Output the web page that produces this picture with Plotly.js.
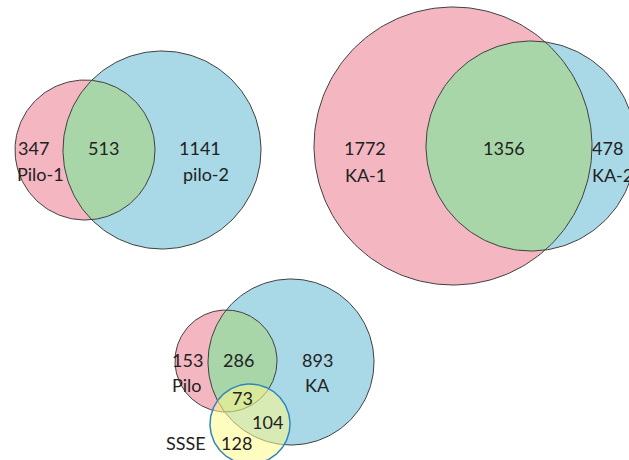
<!DOCTYPE html>
<html><head><meta charset="utf-8">
<script src="https://cdn.plot.ly/plotly-3.0.1.min.js"></script>
<style>body{margin:0}</style></head><body>
<div id="c" style="width:629px;height:460px"></div>
<script>
// Data
const setLabels = ["Pilo-1","pilo-2","KA-1","KA-2","Pilo","KA","SSSE"];
const piloCounts = [347, 513, 1141];      // only Pilo-1, both, only pilo-2
const kaCounts = [1772, 1356, 478];       // only KA-1, both, only KA-2
const tripleCounts = [153, 286, 893, 73, 104, 128]; // Pilo, Pilo∩KA, KA, all, KA∩SSSE, SSSE

// Layout geometry (pixels)
const circ = {
  p1:{x:85,y:150,r:70}, p2:{x:162,y:150,r:99},
  k1:{x:453,y:146,r:139}, k2:{x:531,y:146,r:105},
  bp:{x:226,y:361,r:51}, bk:{x:291,y:362,r:83}, bs:{x:250,y:424,r:40}
};
const PINK='#F4B7C1', BLUE='#A9D9E7', GREEN='#A9D6A9', EDGE='#404040';
function circPts(c,n=240){const xs=[],ys=[];for(let i=0;i<=n;i++){const a=2*Math.PI*i/n;xs.push(c.x+c.r*Math.cos(a));ys.push(c.y+c.r*Math.sin(a));}return [xs,ys];}
function inside(c,x,y){return (x-c.x)**2+(y-c.y)**2<=c.r*c.r+1e-6;}
function lens(a,b){const pts=[];const n=720;
  for(let i=0;i<n;i++){const t=2*Math.PI*i/n;
    let x=a.x+a.r*Math.cos(t),y=a.y+a.r*Math.sin(t); if(inside(b,x,y))pts.push([x,y]);
    x=b.x+b.r*Math.cos(t);y=b.y+b.r*Math.sin(t); if(inside(a,x,y))pts.push([x,y]);}
  const cx=pts.reduce((s,p)=>s+p[0],0)/pts.length, cy=pts.reduce((s,p)=>s+p[1],0)/pts.length;
  pts.sort((p,q)=>Math.atan2(p[1]-cy,p[0]-cx)-Math.atan2(q[1]-cy,q[0]-cx));pts.push(pts[0]);
  return [pts.map(p=>p[0]),pts.map(p=>p[1])];}
const traces=[];
function fillT(xy,col,line,w){traces.push({x:xy[0],y:xy[1],mode:'lines',fill:'toself',fillcolor:col,line:{color:line||'rgba(0,0,0,0)',width:w||0},hoverinfo:'skip',showlegend:false});}
function ring(c,col,w){const xy=circPts(c);traces.push({x:xy[0],y:xy[1],mode:'lines',line:{color:col,width:w||1},hoverinfo:'skip',showlegend:false});}
[['p1','p2'],['k1','k2'],['bp','bk']].forEach(([a,b])=>{
  fillT(circPts(circ[a]),PINK); fillT(circPts(circ[b]),BLUE); fillT(lens(circ[a],circ[b]),GREEN);
  ring(circ[a],EDGE,1); ring(circ[b],EDGE,1);});
fillT(circPts(circ.bs),'rgba(255,250,140,0.55)');
ring(circ.bs,'#2E86C1',1.5);

const F={family:'Lato, "Open Sans", sans-serif',size:18,color:'#222'};
const ann=[];
function t(x,y,s){ann.push({x,y,text:String(s),showarrow:false,font:F,xanchor:'center',yanchor:'middle'});}
t(33,148,piloCounts[0]); t(40,174,setLabels[0]); t(103,148,piloCounts[1]); t(200,148,piloCounts[2]); t(206,174,setLabels[1]);
t(365,148,kaCounts[0]); t(365,175,setLabels[2]); t(504,148,kaCounts[1]); t(607,148,kaCounts[2]); t(612,175,setLabels[3]);
t(187,360,tripleCounts[0]); t(187,385,setLabels[4]); t(238,360,tripleCounts[1]); t(317,360,tripleCounts[2]); t(317,385,setLabels[5]);
t(242,398,tripleCounts[3]); t(267,422,tripleCounts[4]); t(186,443,setLabels[6]); t(236,443,tripleCounts[5]);

Plotly.newPlot('c',traces,{width:629,height:460,margin:{l:0,r:0,t:0,b:0},
  paper_bgcolor:'white',plot_bgcolor:'white',annotations:ann,
  xaxis:{range:[0,629],visible:false,fixedrange:true},
  yaxis:{range:[460,0],visible:false,fixedrange:true}},{staticPlot:true});
</script></body></html>
